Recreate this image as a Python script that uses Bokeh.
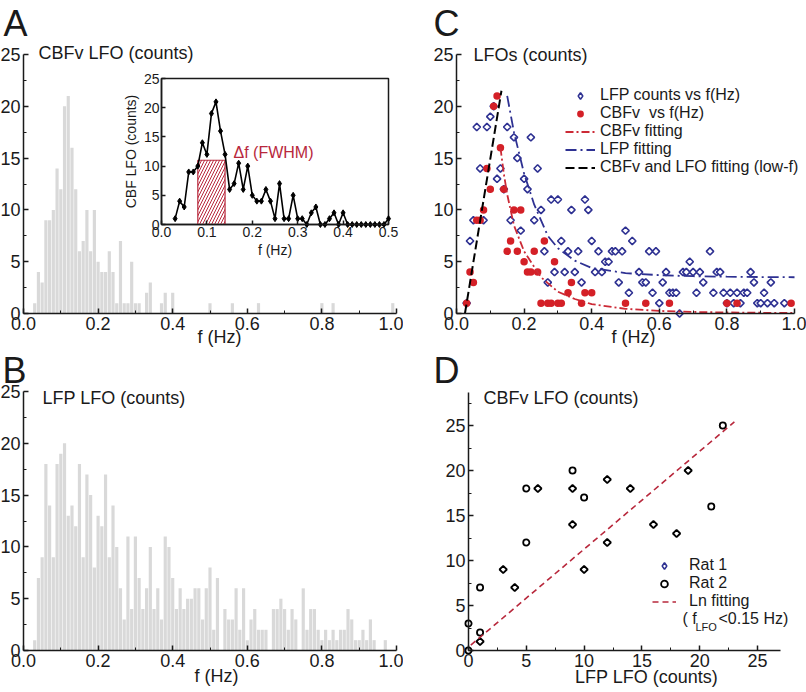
import numpy as np
from bokeh.plotting import figure
from bokeh.layouts import column, row
from bokeh.models import (Range1d, LinearAxis, FixedTicker, PrintfTickFormatter,
                          Label, Legend, LegendItem)
from bokeh.core.properties import value
from bokeh.embed import file_html
from bokeh.resources import INLINE

FONT = "Liberation Sans"
INK = "#1a1a1a"
GREY = "#d9d9d9"
RED = "#d42027"
RED_FIT = "#cc2a36"
BLUE = "#2e3192"
CRIMSON = "#b8283c"

# ---------------- data ----------------
# Panel A: CBFv LFO counts per frequency bin (Hz)
cbfv_f = [0.03, 0.04, 0.05, 0.06, 0.07, 0.08, 0.09, 0.10, 0.11, 0.12,
          0.13, 0.14, 0.15, 0.16, 0.17, 0.18, 0.19, 0.20, 0.21, 0.22,
          0.23, 0.24, 0.25, 0.26, 0.27, 0.28, 0.29, 0.30, 0.31, 0.33,
          0.34, 0.37, 0.38, 0.40, 0.50, 0.56, 0.63, 0.80, 0.83, 0.99]
cbfv_counts = [1, 4, 3, 9, 9, 10, 14, 12, 20, 21,
               16, 12, 6, 7, 10, 6, 10, 5, 4, 4,
               6, 4, 1, 7, 1, 1, 5, 1, 1, 2,
               3, 1, 2, 2, 1, 1, 1, 1, 1, 1]

# Inset of panel A
inset_f = [0.03, 0.04, 0.05, 0.06, 0.07, 0.08, 0.09, 0.10, 0.11, 0.12,
           0.13, 0.14, 0.15, 0.16, 0.17, 0.18, 0.19, 0.20, 0.21, 0.22,
           0.23, 0.24, 0.25, 0.26, 0.27, 0.28, 0.29, 0.30, 0.31, 0.32,
           0.33, 0.34, 0.35, 0.36, 0.37, 0.38, 0.39, 0.40, 0.41, 0.42,
           0.43, 0.44, 0.45, 0.46, 0.47, 0.48, 0.49, 0.50]
inset_counts = [1, 4, 3, 9, 9, 10, 14, 12, 19, 21,
                16, 12, 6, 7, 10.5, 6, 10, 5, 4, 4,
                6, 4, 1, 7, 1, 1, 5, 1, 1, 0,
                2, 3, 0, 0, 1, 2, 0, 2, 0, 0,
                0, 0, 0, 0, 0, 0, 0, 1]
fwhm_f = [0.08, 0.14]
fwhm_half_max = 11

# Panel B: LFP LFO counts per frequency bin (Hz)
lfp_f = [0.03, 0.04, 0.05, 0.06, 0.07, 0.08, 0.09, 0.10, 0.11, 0.12,
         0.13, 0.14, 0.15, 0.16, 0.17, 0.18, 0.19, 0.20, 0.21, 0.22,
         0.23, 0.24, 0.25, 0.26, 0.27, 0.28, 0.29, 0.30, 0.31, 0.32,
         0.33, 0.34, 0.35, 0.36, 0.37, 0.38, 0.39, 0.40, 0.41, 0.42,
         0.43, 0.44, 0.45, 0.46, 0.47, 0.48, 0.49, 0.50, 0.51, 0.52,
         0.54, 0.55, 0.56, 0.57, 0.58, 0.59, 0.60, 0.61, 0.62, 0.63,
         0.64, 0.65, 0.66, 0.67, 0.68, 0.69, 0.70, 0.71, 0.72, 0.73,
         0.75, 0.76, 0.77, 0.78, 0.79, 0.80, 0.81, 0.82, 0.83, 0.84,
         0.85, 0.86, 0.87, 0.88, 0.89, 0.90, 0.91, 0.92, 0.93, 0.94,
         0.97]
lfp_counts = [1, 7, 9, 18, 14, 9, 18, 19, 20, 13,
              14, 12, 18, 9, 17, 15, 8, 13, 12, 17,
              9, 14, 10, 6, 3, 11, 4, 11, 7, 4,
              6, 10, 4, 6, 3, 11, 10, 7, 4, 6,
              4, 5, 5, 6, 6, 3, 6, 8, 2, 7,
              4, 3, 3, 6, 2, 6, 1, 3, 4, 2,
              2, 2, 0, 4, 4, 5, 4, 2, 4, 3,
              6, 2, 4, 4, 2, 1, 2, 1, 2, 1,
              2, 2, 4, 3, 1, 1, 2, 1, 3, 1,
              1]

# Panel C: fitted curves
cbfv_fit_f = [0.13, 0.14, 0.15, 0.17, 0.20, 0.25, 0.30, 0.35, 0.40, 0.50, 0.60, 0.70, 0.80, 0.90, 1.00]
cbfv_fit = [16, 13.5, 11.5, 8.5, 6, 3.5, 2.1, 1.4, 0.9, 0.45, 0.25, 0.15, 0.1, 0.07, 0.05]
lfp_fit_f = [0.15, 0.17, 0.20, 0.23, 0.27, 0.30, 0.35, 0.40, 0.50, 0.60, 0.70, 0.80, 0.90, 1.00]
lfp_fit = [21, 17.5, 13.5, 10.5, 7.5, 6.3, 5.1, 4.4, 3.9, 3.7, 3.6, 3.55, 3.52, 3.5]
lowf_fit_f = [0.025, 0.133]
lowf_fit = [0, 21.5]

# Panel D
rat1_lfp = [1, 3, 4, 6, 9, 9, 10, 12, 12, 14, 16, 18, 19]
rat1_cbfv = [1, 9, 7, 18, 18, 14, 9, 19, 12, 18, 14, 13, 20]
rat2_lfp = [0, 0, 1, 1, 5, 5, 9, 10, 21, 22]
rat2_cbfv = [0, 3, 2, 7, 12, 18, 20, 17, 16, 25]
ln_fit_x = [0.2, 23]
ln_fit_y = [0.6, 25.4]

# ticks
freq_ticks = [0.0, 0.2, 0.4, 0.6, 0.8, 1.0]
freq_minor = [0.1, 0.3, 0.5, 0.7, 0.9]
count_ticks = [0, 5, 10, 15, 20, 25]
count_minor = [2.5, 7.5, 12.5, 17.5, 22.5]
inset_xticks = [0.0, 0.1, 0.2, 0.3, 0.4, 0.5]
inset_yticks = [0, 5, 10, 15, 20, 25]
d_ticks = [0, 5, 10, 15, 20, 25]
d_xminor = [2.5, 7.5, 12.5, 17.5, 22.5]
d_yminor = [2.5, 7.5, 12.5, 17.5, 22.5, 27.5]


class PixMap:
    """Maps page pixels to data values for a canvas at (ox, oy) of size W x H."""
    def __init__(self, ox, oy, W, H, x0, px0, x1, px1, y0, py0, y1, py1):
        self.ox, self.oy, self.W, self.H = ox, oy, W, H
        self.kx = (x1 - x0) / (px1 - px0)
        self.ky = (y1 - y0) / (py0 - py1)
        self.xs = x0 - (px0 - ox) * self.kx
        self.ys = y0 - (oy + H - py0) * self.ky

    def x(self, px):
        return self.xs + (px - self.ox) * self.kx

    def y(self, py):
        return self.ys + (self.oy + self.H - py) * self.ky

    def xr(self):
        return Range1d(self.xs, self.xs + self.W * self.kx)

    def yr(self):
        return Range1d(self.ys, self.ys + self.H * self.ky)


def style_axis(ax, size="18px", tick_in=5, minor_in=3):
    ax.axis_line_color = INK
    ax.axis_line_width = 1.5
    ax.major_tick_line_color = INK
    ax.minor_tick_line_color = INK
    ax.major_tick_line_width = 1.5
    ax.minor_tick_line_width = 1
    ax.major_tick_in = tick_in
    ax.major_tick_out = 0
    ax.minor_tick_in = minor_in
    ax.minor_tick_out = 0
    ax.major_label_text_font = FONT
    ax.major_label_text_font_size = size
    ax.major_label_text_color = INK
    ax.major_label_standoff = 3


def make_fig(m):
    p = figure(width=m.W, height=m.H, x_range=m.xr(), y_range=m.yr(),
               output_backend="svg", toolbar_location=None, min_border=0,
               x_axis_location=None, y_axis_location=None)
    p.outline_line_color = None
    p.xgrid.grid_line_color = None
    p.ygrid.grid_line_color = None
    return p


def add_axes(p, xb, yb, xt, xm, yt, ym, xfmt=None, size="18px", tick_in=5, minor_in=3,
             xlabel=None, ylabel=None, **kw):
    xa = LinearAxis(fixed_location=yb[0], bounds=xb,
                    ticker=FixedTicker(ticks=xt, minor_ticks=xm), **kw)
    if xfmt:
        xa.formatter = PrintfTickFormatter(format=xfmt)
    ya = LinearAxis(fixed_location=xb[0], bounds=yb,
                    ticker=FixedTicker(ticks=yt, minor_ticks=ym), **kw)
    for ax, lab in ((xa, xlabel), (ya, ylabel)):
        style_axis(ax, size=size, tick_in=tick_in, minor_in=minor_in)
        if lab:
            ax.axis_label = lab
            ax.axis_label_text_font = FONT
            ax.axis_label_text_font_size = size
            ax.axis_label_text_font_style = "normal"
            ax.axis_label_text_color = INK
            ax.axis_label_standoff = 2
            ax.major_label_standoff = 2
    p.add_layout(xa, "below")
    p.add_layout(ya, "left")


def add_text(p, m, px, py, text, size="18px", color=INK, align="left"):
    p.add_layout(Label(x=m.x(px), y=m.y(py), text=text, text_font=FONT,
                       text_font_size=size, text_color=color,
                       text_align=align, text_baseline="middle"))


TOP_H, BOT_H, COL_W = 347, 345, 403
ROT = dict(marker="square", angle=45, angle_units="deg", fill_color="white")

# ---------------- Panel A ----------------
mA = PixMap(0, 0, COL_W, TOP_H, 0, 23, 1.0, 396, 0, 313, 25, 54)
pA = make_fig(mA)
pA.vbar(x=cbfv_f, top=cbfv_counts, width=0.0085, fill_color=GREY, line_color=None)
add_axes(pA, (0, 1.0), (0, 25), freq_ticks, freq_minor, count_ticks, count_minor, xfmt="%.1f")
add_text(pA, mA, 3, 23, "A", size="36px")
add_text(pA, mA, 38, 52, "CBFv LFO (counts)")
add_text(pA, mA, 219, 336, "f (Hz)", align="center")

# inset (its own ranges, placed by its pixel box)
mI = PixMap(0, 0, COL_W, TOP_H, inset_xticks[0], 161, inset_xticks[-1], 388,
            inset_yticks[0], 224, inset_yticks[-1], 78)
pA.extra_x_ranges = {"ix": mI.xr()}
pA.extra_y_ranges = {"iy": mI.yr()}
kw = dict(x_range_name="ix", y_range_name="iy")
pA.quad(left=inset_xticks[0], right=inset_xticks[-1], bottom=inset_yticks[0], top=inset_yticks[-1],
        fill_color="white", line_color=INK, line_width=1.5, **kw)
pA.quad(left=fwhm_f[0], right=fwhm_f[1], bottom=0, top=fwhm_half_max,
        fill_color=None, line_color=CRIMSON, line_width=1.2,
        hatch_pattern="/", hatch_color=CRIMSON, hatch_scale=6, hatch_weight=1, **kw)
pA.line(inset_f, inset_counts, line_color="black", line_width=1.6, **kw)
pA.scatter(inset_f, inset_counts, marker="diamond", size=6, fill_color="black",
           line_color="black", **kw)
pA.text(x=[mI.x(233)], y=[mI.y(152)], text=["Δf (FWHM)"], text_font=value(FONT),
        text_font_size="16px", text_color=CRIMSON, text_baseline="middle", **kw)
add_axes(pA, (inset_xticks[0], inset_xticks[-1]), (inset_yticks[0], inset_yticks[-1]),
         inset_xticks, [], inset_yticks, [], xfmt="%.1f", size="14px", tick_in=4,
         minor_in=0, xlabel="f (Hz)", ylabel="CBF LFO (counts)", **kw)

# ---------------- Panel B ----------------
mB = PixMap(0, TOP_H, COL_W, BOT_H, 0, 23, 1.0, 396, 0, 650, 25, 391)
pB = make_fig(mB)
pB.vbar(x=lfp_f, top=lfp_counts, width=0.0085, fill_color=GREY, line_color=None)
add_axes(pB, (0, 1.0), (0, 25), freq_ticks, freq_minor, count_ticks, count_minor, xfmt="%.1f")
add_text(pB, mB, 2, 370, "B", size="36px")
add_text(pB, mB, 42, 397, "LFP LFO (counts)")
add_text(pB, mB, 216, 675, "f (Hz)", align="center")

# ---------------- Panel C ----------------
mC = PixMap(COL_W, 0, COL_W, TOP_H, 0, 456, 1.0, 794, 0, 313, 25, 54)
pC = make_fig(mC)
# legend-shape renderer (covered by the rotated-square markers drawn on top)
rC1 = pC.scatter(lfp_f, lfp_counts, marker="diamond", size=3, fill_color="white",
                 line_color=BLUE, line_width=1.6)
pC.scatter(lfp_f, lfp_counts, size=5.2, line_color=BLUE, line_width=1.6, **ROT)
rC2 = pC.scatter(cbfv_f, cbfv_counts, marker="circle", size=7.5, fill_color=RED, line_color=None)
rC3 = pC.line(cbfv_fit_f, cbfv_fit, line_color=RED_FIT, line_width=1.8, line_dash="8 3 2 3")
rC4 = pC.line(lfp_fit_f, lfp_fit, line_color=BLUE, line_width=1.8, line_dash="11 4 2 4")
rC5 = pC.line(lowf_fit_f, lowf_fit, line_color="black", line_width=2, line_dash="9 4")
add_axes(pC, (0, 1.0), (0, 25), freq_ticks, freq_minor, count_ticks, count_minor, xfmt="%.1f")
legC = Legend(items=[LegendItem(label="LFP counts vs f(Hz)", renderers=[rC1]),
                     LegendItem(label="CBFv  vs f(Hz)", renderers=[rC2]),
                     LegendItem(label="CBFv fitting", renderers=[rC3]),
                     LegendItem(label="LFP fitting", renderers=[rC4]),
                     LegendItem(label="CBFv and LFO fitting (low-f)", renderers=[rC5])],
              location=(565 - COL_W, 171), background_fill_alpha=0, border_line_color=None,
              padding=0, margin=0, spacing=0, glyph_width=30, glyph_height=17,
              label_height=17, label_standoff=5, label_text_font=FONT,
              label_text_font_size="16px", label_text_color=INK)
pC.add_layout(legC)
add_text(pC, mC, 433, 23, "C", size="36px")
add_text(pC, mC, 473, 54, "LFOs (counts)")
add_text(pC, mC, 633, 336, "f (Hz)", align="center")

# ---------------- Panel D ----------------
mD = PixMap(COL_W, TOP_H, COL_W, BOT_H, 0, 468, 25, 757, 0, 650, 25, 425)
pD = make_fig(mD)
rD1 = pD.scatter(rat1_lfp, rat1_cbfv, marker="diamond", size=3, fill_color="white",
                 line_color=BLUE, line_width=1.6)
pD.scatter(rat1_lfp, rat1_cbfv, size=5.2, line_color="black", line_width=1.8, **ROT)
rD2 = pD.scatter(rat2_lfp, rat2_cbfv, marker="circle", size=6.2, fill_color=None,
                 line_color="black", line_width=1.8)
rD3 = pD.line(ln_fit_x, ln_fit_y, line_color=CRIMSON, line_width=1.6, line_dash="6 4")
add_axes(pD, (0, 27), (0, 28.7), d_ticks, d_xminor, d_ticks, d_yminor)
legD = Legend(items=[LegendItem(label="Rat 1", renderers=[rD1]),
                     LegendItem(label="Rat 2", renderers=[rD2]),
                     LegendItem(label="Ln fitting", renderers=[rD3])],
              location=(652 - COL_W, 82), background_fill_alpha=0, border_line_color=None,
              padding=0, margin=0, spacing=0, glyph_width=24, glyph_height=17,
              label_height=17, label_standoff=13, label_text_font=FONT,
              label_text_font_size="16px", label_text_color=INK)
pD.add_layout(legD)
add_text(pD, mD, 682, 618, "( f", size="16px")
add_text(pD, mD, 695, 626, "LFO", size="11px")
add_text(pD, mD, 718, 618, "<0.15 Hz)", size="16px")
add_text(pD, mD, 433, 370, "D", size="36px")
add_text(pD, mD, 483, 397, "CBFv LFO (counts)")
add_text(pD, mD, 646, 676, "LFP LFO (counts)", align="center")

layout = column(row(pA, pC), row(pB, pD))
open("out.html", "w").write(file_html(layout, INLINE, "LFO"))
